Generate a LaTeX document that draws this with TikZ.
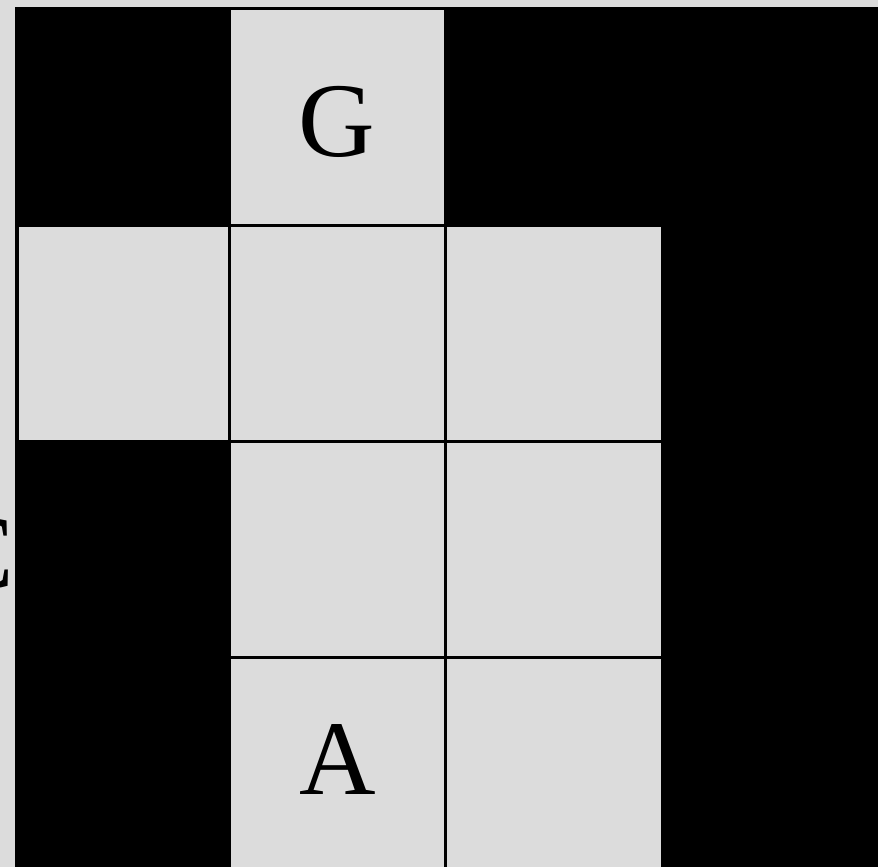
\documentclass[tikz,border=0pt]{standalone}
\usepackage{fontspec}
\setmainfont{Liberation Serif}
\definecolor{cellgray}{HTML}{DCDCDC}
\tikzset{
  cellbox/.style={fill=cellgray, draw=black, line width=3pt},
  letter/.style={font=\fontsize{106}{106}\selectfont, inner sep=0pt, anchor=base}
}
\begin{document}
\begin{tikzpicture}[x=1pt,y=-1pt]
  \useasboundingbox (0,0) rectangle (878,867);
  \fill[cellgray] (0,0) rectangle (878,867);
  \node[letter, anchor=base east] (c) at (14,588) {C};
  \fill[black] (15,7) rectangle (878,880);
  % cells: col edges 15,229,445,661 ; row edges 9,225,441,657,873
  \draw[cellbox] (229,9) rectangle (445,225);
  \draw[cellbox] (17,225) rectangle (229,441);
  \draw[cellbox] (229,225) rectangle (445,441);
  \draw[cellbox] (445,225) rectangle (662,441);
  \draw[cellbox] (229,441) rectangle (445,657);
  \draw[cellbox] (445,441) rectangle (662,657);
  \draw[cellbox] (229,657) rectangle (445,880);
  \draw[cellbox] (445,657) rectangle (662,880);
  \node[letter] (g) at (337,156) {G};
  \node[letter] (a) at (338,794) {A};
\end{tikzpicture}
\end{document}
